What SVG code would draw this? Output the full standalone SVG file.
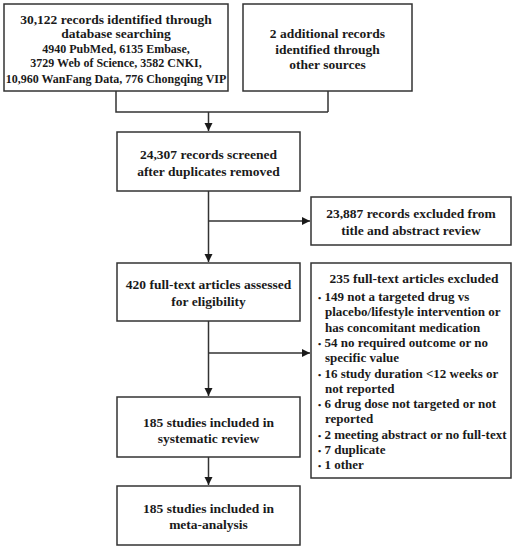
<svg xmlns="http://www.w3.org/2000/svg" width="516" height="550" viewBox="0 0 516 550">
<style>
.box{fill:#fff;stroke:#333;stroke-width:1.5}
.t{font-family:"Liberation Serif","Times New Roman",serif;font-weight:bold;font-size:13.5px;fill:#1a1a1a;text-anchor:middle}
.s{font-size:12px}
.l{font-family:"Liberation Serif","Times New Roman",serif;font-weight:bold;font-size:13px;fill:#1a1a1a}
.b{font-size:9px}
.c{fill:none;stroke:#333;stroke-width:1.5}
</style>
<defs>
<marker id="ah" markerUnits="userSpaceOnUse" markerWidth="9" markerHeight="9" refX="8" refY="4" orient="auto">
<path d="M0,0 L8,4 L0,8 z" fill="#1a1a1a"/>
</marker>
</defs>
<rect width="516" height="550" fill="#fff"/>
<g id="connectors">
<path class="c" d="M116,91 V112 H328 M328,91 V112"/>
<path class="c" d="M208.5,112 V131" marker-end="url(#ah)"/>
<path class="c" d="M208.5,191 V262" marker-end="url(#ah)"/>
<path class="c" d="M208.5,221 H310" marker-end="url(#ah)"/>
<path class="c" d="M208.5,321 V396" marker-end="url(#ah)"/>
<path class="c" d="M208.5,353 H310" marker-end="url(#ah)"/>
<path class="c" d="M208.5,457 V485" marker-end="url(#ah)"/>
</g>
<g id="n1">
<rect class="box" x="4" y="4" width="224" height="87"/>
<text class="t" x="116" y="24">30,122 records identified through</text>
<text class="t" x="116" y="38">database searching</text>
<text class="t s" x="116" y="53">4940 PubMed, 6135 Embase,</text>
<text class="t s" x="116" y="67">3729 Web of Science, 3582 CNKI,</text>
<text class="t s" x="116" y="83">10,960 WanFang Data, 776 Chongqing VIP</text>
</g>
<g id="n2">
<rect class="box" x="243" y="4" width="169" height="87"/>
<text class="t" x="327.5" y="38">2 additional records</text>
<text class="t" x="327.5" y="54">identified through</text>
<text class="t" x="327.5" y="69">other sources</text>
</g>
<g id="n3">
<rect class="box" x="117" y="132" width="183" height="59"/>
<text class="t" x="208.5" y="159">24,307 records screened</text>
<text class="t" x="208.5" y="176">after duplicates removed</text>
</g>
<g id="n4">
<rect class="box" x="311" y="197" width="200" height="48"/>
<text class="t" x="411" y="218">23,887 records excluded from</text>
<text class="t" x="411" y="235">title and abstract review</text>
</g>
<g id="n5">
<rect class="box" x="117" y="263" width="183" height="58"/>
<text class="t" x="208.5" y="289">420 full-text articles assessed</text>
<text class="t" x="208.5" y="306">for eligibility</text>
</g>
<g id="n6">
<rect class="box" x="311" y="263" width="200" height="215"/>
<text class="t" x="414" y="283">235 full-text articles excluded</text>
<text class="l" x="318" y="301"><tspan class="b">•</tspan> 149 not a targeted drug vs</text>
<text class="l" x="325" y="316.3">placebo/lifestyle intervention or</text>
<text class="l" x="325" y="331.6">has concomitant medication</text>
<text class="l" x="318" y="346.9"><tspan class="b">•</tspan> 54 no required outcome or no</text>
<text class="l" x="325" y="362.2">specific value</text>
<text class="l" x="318" y="377.5"><tspan class="b">•</tspan> 16 study duration &lt;12 weeks or</text>
<text class="l" x="325" y="392.8">not reported</text>
<text class="l" x="318" y="408.1"><tspan class="b">•</tspan> 6 drug dose not targeted or not</text>
<text class="l" x="325" y="423.4">reported</text>
<text class="l" x="318" y="438.7"><tspan class="b">•</tspan> 2 meeting abstract or no full-text</text>
<text class="l" x="318" y="454"><tspan class="b">•</tspan> 7 duplicate</text>
<text class="l" x="318" y="469.3"><tspan class="b">•</tspan> 1 other</text>
</g>
<g id="n7">
<rect class="box" x="117" y="397" width="183" height="60"/>
<text class="t" x="208.5" y="427">185 studies included in</text>
<text class="t" x="208.5" y="443">systematic review</text>
</g>
<g id="n8">
<rect class="box" x="117" y="486" width="183" height="59"/>
<text class="t" x="208.5" y="513">185 studies included in</text>
<text class="t" x="208.5" y="529">meta-analysis</text>
</g>
</svg>
